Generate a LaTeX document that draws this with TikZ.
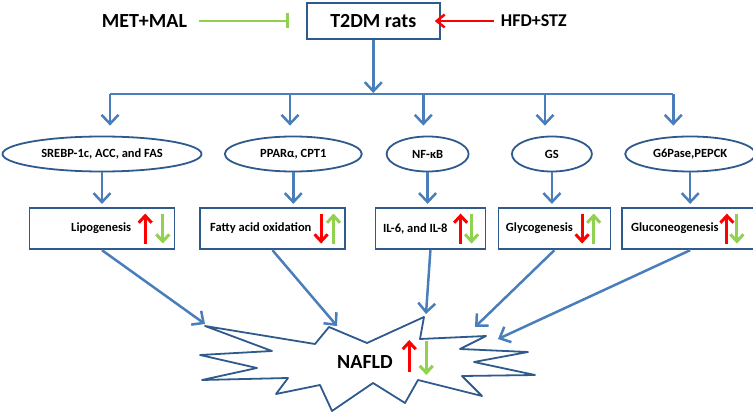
\documentclass[tikz,border=0pt]{standalone}
\usepackage{fontspec}
\setmainfont{Carlito}
\usetikzlibrary{arrows.meta, positioning, shapes.geometric}
\definecolor{nafldblue}{HTML}{4A7EBB}
\definecolor{nafldnavy}{HTML}{2F5A8C}
\definecolor{nafldred}{HTML}{FF0000}
\definecolor{nafldgreen}{HTML}{92D050}
\tikzset{
  >={Straight Barb[length=9pt, width=17pt]},
  box/.style={rectangle, draw=nafldnavy, line width=1.8pt, minimum height=41.5pt, inner sep=0pt},
  oval/.style={ellipse, draw=nafldnavy, line width=1.8pt, minimum height=35pt, inner sep=0pt,
               font=\fontsize{12.5}{15}\selectfont\bfseries},
  txt/.style={inner sep=0pt, font=\fontsize{12.5}{15}\selectfont\bfseries},
  bigtxt/.style={inner sep=0pt, font=\fontsize{20}{24}\selectfont\bfseries},
  flow/.style={->, line width=2.5pt, draw=nafldblue},
  bus/.style={line width=2.5pt, draw=nafldblue},
  regr/.style={-{Straight Barb[length=7pt, width=13pt]}, line width=3pt, draw=nafldred},
  regg/.style={regr, draw=nafldgreen},
  burst/.style={draw=nafldnavy, line width=1.8pt, line join=round},
}
\begin{document}
\begin{tikzpicture}[x=1pt, y=-1pt]
  \useasboundingbox (0,0) rectangle (753,414);
  % model and treatments
  \node[box, bigtxt, minimum width=133pt, minimum height=36.5pt] (t2dm) at (373.3,21) {T2DM rats};
  \node[bigtxt, left=118.7pt of t2dm] (met) {MET+MAL};
  \node[bigtxt, font=\fontsize{18}{22}\selectfont\bfseries, right=60pt of t2dm] (hfd) {HFD+STZ};
  \draw[line width=2.5pt, draw=nafldgreen, -{Bar[width=15pt]}] ([xshift=12pt]met.east) -- ([xshift=-17pt]t2dm.west);
  \draw[line width=2.5pt, draw=nafldred, -{Straight Barb[length=8pt, width=13pt]}] ([xshift=-7pt]hfd.west) -- ([xshift=-6pt]t2dm.east);

  % bus
  \coordinate (c1) at (110,94);
  \coordinate (c2) at (290,94);
  \coordinate (c3) at (423.3,94);
  \coordinate (c4) at (545,94);
  \coordinate (c5) at (673.3,94);
  \draw[flow, shorten >=1pt] (t2dm) -- (t2dm |- c1);
  \draw[bus] (c1) -- (c5);

  % markers
  \node[oval, minimum width=199pt] (e1) at (102,154) {SREBP-1c, ACC, and FAS};
  \node[oval, minimum width=137pt, right=21.5pt of e1] (e2) {PPARα, CPT1};
  \node[oval, minimum width=82pt, right=23pt of e2] (e3) {NF-κB};
  \node[oval, minimum width=80pt, right=41.5pt of e3] (e4) {GS};
  \node[oval, minimum width=130pt, right=31.5pt of e4] (e5) {G6Pase,PEPCK};

  % processes
  \node[box, minimum width=145pt, below=34.5pt of e1] (b1) {};
  \node[box, minimum width=145pt, below=34.5pt of e2, xshift=-20.8pt] (b2) {};
  \node[box, minimum width=110pt, below=34.5pt of e3, xshift=2.8pt] (b3) {};
  \node[box, minimum width=112pt, below=34.5pt of e4, xshift=2.5pt] (b4) {};
  \node[box, minimum width=137pt, below=34.5pt of e5] (b5) {};
  \node[txt] (t1) at ([xshift=-0.8pt]b1.center) {Lipogenesis};
  \node[txt] (t2) at ([xshift=-11.7pt]b2.center) {Fatty acid oxidation};
  \node[txt] (t3) at ([xshift=-15.1pt]b3.center) {IL-6, and IL-8};
  \node[txt] (t4) at ([xshift=-15pt]b4.center) {Glycogenesis};
  \node[txt] (t5) at ([xshift=-15.3pt]b5.center) {Gluconeogenesis};

  \draw[regr] (b1.center) ++(43.2,15) -- ++(0,-30);
  \draw[regg] (b1.center) ++(60.8,-15) -- ++(0,30);
  \draw[regr] (b2.center) ++(48.6,-15) -- ++(0,30);
  \draw[regg] (b2.center) ++(61,15) -- ++(0,-30);
  \draw[regr] (b3.center) ++(30.2,15) -- ++(0,-30);
  \draw[regg] (b3.center) ++(41.2,-15) -- ++(0,30);
  \draw[regr] (b4.center) ++(27.7,-15) -- ++(0,30);
  \draw[regg] (b4.center) ++(39.3,15) -- ++(0,-30);
  \draw[regr] (b5.center) ++(36.7,15) -- ++(0,-30);
  \draw[regg] (b5.center) ++(46.7,-15) -- ++(0,30);

  \foreach \i in {1,...,5} {
    \draw[flow, shorten >=10pt] (c\i) -- (c\i |- e\i.north);
    \draw[flow, shorten >=3pt] (e\i.south) -- (e\i.south |- b\i.north);
  }

  % NAFLD burst
  \draw[burst] (205,326) -- (315,344) -- (329,327) -- (367,343) -- (424,317) -- (420,339)
    -- (486,336) -- (460,349) -- (528,352) -- (474,362) -- (535,375) -- (462,376)
    -- (482,396) -- (418,380) -- (405,403) -- (373,383) -- (332,411) -- (320,385)
    -- (276,394) -- (288,378) -- (202,380) -- (257,368) -- (200,355) -- (272,351) -- cycle;
  \node[bigtxt] (nafld) at (365,362) {NAFLD};
  \draw[regr] (nafld.east) ++(16.3,10) -- ++(0,-32);
  \draw[regg] (nafld.east) ++(33.3,-21) -- ++(0,34);

  \coordinate (n1) at (205,324);
  \coordinate (n2) at (337,326);
  \coordinate (n3) at (426,314);
  \coordinate (n4) at (475,327);
  \coordinate (n5) at (498,339);
  \foreach \i in {1,...,5}
    \draw[flow] (b\i.south) -- (n\i);
\end{tikzpicture}
\end{document}
